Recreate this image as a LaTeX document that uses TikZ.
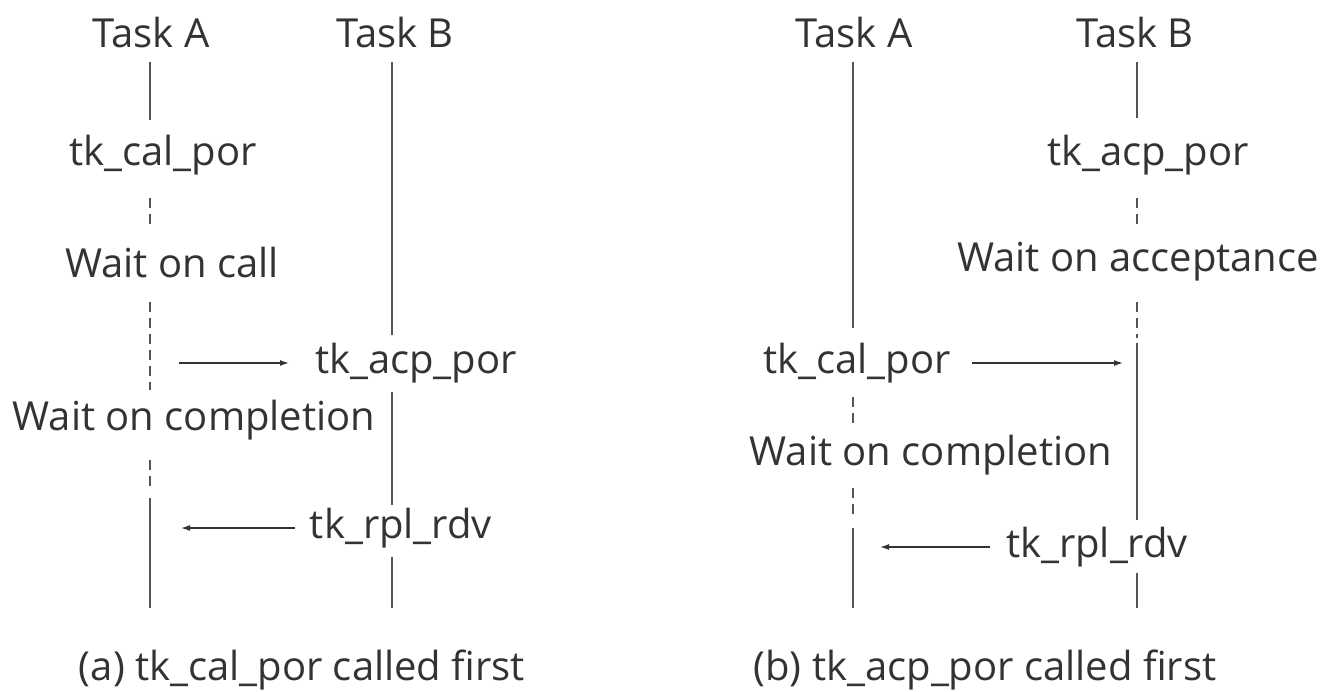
\documentclass[tikz,border=0pt]{standalone}
\usepackage{fontspec}
\setmainfont{Open Sans}
\usetikzlibrary{arrows.meta}
\definecolor{ink}{HTML}{333333}
\definecolor{wire}{HTML}{555555}
\begin{document}
\begin{tikzpicture}[x=1pt,y=-1pt,
  lbl/.style={font=\fontsize{40}{48}\selectfont, text=ink, inner sep=0pt},
  life/.style={draw=wire, line width=1.3pt},
  waitline/.style={life, dash pattern=on 10pt off 6pt},
  msg/.style={draw=ink, line width=1.3pt, -{Latex[length=9pt,width=6pt]}}]
\useasboundingbox (0,0) rectangle (1341,691);

% ---------- (a) tk_cal_por called first ----------
\node[lbl] (headA1) at (151,32) {Task A};
\node[lbl] (headB1) at (395,32) {Task B};
\node[lbl] (cal1) at (163,155) {tk\_cal\_por};
\node[lbl] (waitcall) at (172,262) {Wait on call};
\node[lbl] (acp1) at (416,363) {tk\_acp\_por};
\node[lbl] (waitcomp1) at (194,420) {Wait on completion};
\node[lbl] (rpl1) at (401,528) {tk\_rpl\_rdv};
\node[lbl] (cap1) at (302,670) {(a) tk\_cal\_por called first};

% Task A lifeline
\coordinate (a1) at (150,62);  \coordinate (a2) at (150,120);
\coordinate (a3) at (150,198); \coordinate (a4) at (150,230);
\coordinate (a5) at (150,302); \coordinate (a6) at (150,390);
\coordinate (a7) at (150,460); \coordinate (a8) at (150,490);
\coordinate (a9) at (150,498); \coordinate (a10) at (150,608);
\draw[life] (a1) -- (a2);
\draw[waitline] (a3) -- (a4);
\draw[waitline] (a5) -- (a6);
\draw[waitline] (a7) -- (a8);
\draw[life] (a9) -- (a10);

% Task B lifeline
\coordinate (b1) at (392,62);  \coordinate (b2) at (392,335);
\coordinate (b3) at (392,392); \coordinate (b4) at (392,505);
\coordinate (b5) at (392,557); \coordinate (b6) at (392,608);
\draw[life] (b1) -- (b2);
\draw[life] (b3) -- (b4);
\draw[life] (b5) -- (b6);

% messages
\coordinate (m1) at (179,363);
\coordinate (m2) at (181,528);
\draw[msg] (m1) -- (acp1.west -| 289,0);
\draw[msg] (rpl1.west -| 295,0) -- (m2);

% ---------- (b) tk_acp_por called first ----------
\node[lbl] (headA2) at (854,32) {Task A};
\node[lbl] (headB2) at (1135,32) {Task B};
\node[lbl] (acp2) at (1148,155) {tk\_acp\_por};
\node[lbl] (waitacc) at (1138,262) {Wait on acceptance};
\node[lbl] (cal2) at (857,363) {tk\_cal\_por};
\node[lbl] (waitcomp2) at (931,455) {Wait on completion};
\node[lbl] (rpl2) at (1097,547) {tk\_rpl\_rdv};
\node[lbl] (cap2) at (985,670) {(b) tk\_acp\_por called first};

% Task A lifeline
\coordinate (c1) at (853,62);  \coordinate (c2) at (853,328);
\coordinate (c3) at (853,397); \coordinate (c4) at (853,423);
\coordinate (c5) at (853,488); \coordinate (c6) at (853,517);
\coordinate (c7) at (853,528); \coordinate (c8) at (853,608);
\draw[life] (c1) -- (c2);
\draw[waitline] (c3) -- (c4);
\draw[waitline] (c5) -- (c6);
\draw[life] (c7) -- (c8);

% Task B lifeline
\coordinate (d1) at (1137,62);  \coordinate (d2) at (1137,118);
\coordinate (d3) at (1137,198); \coordinate (d4) at (1137,230);
\coordinate (d5) at (1137,302); \coordinate (d6) at (1137,338);
\coordinate (d7) at (1137,343); \coordinate (d8) at (1137,520);
\coordinate (d9) at (1137,573); \coordinate (d10) at (1137,608);
\draw[life] (d1) -- (d2);
\draw[waitline] (d3) -- (d4);
\draw[waitline] (d5) -- (d6);
\draw[life] (d7) -- (d8);
\draw[life] (d9) -- (d10);

% messages
\coordinate (m3) at (1123,363);
\coordinate (m4) at (880,547);
\draw[msg] (cal2.east -| 972,0) -- (m3);
\draw[msg] (rpl2.west -| 990,0) -- (m4);
\end{tikzpicture}
\end{document}
